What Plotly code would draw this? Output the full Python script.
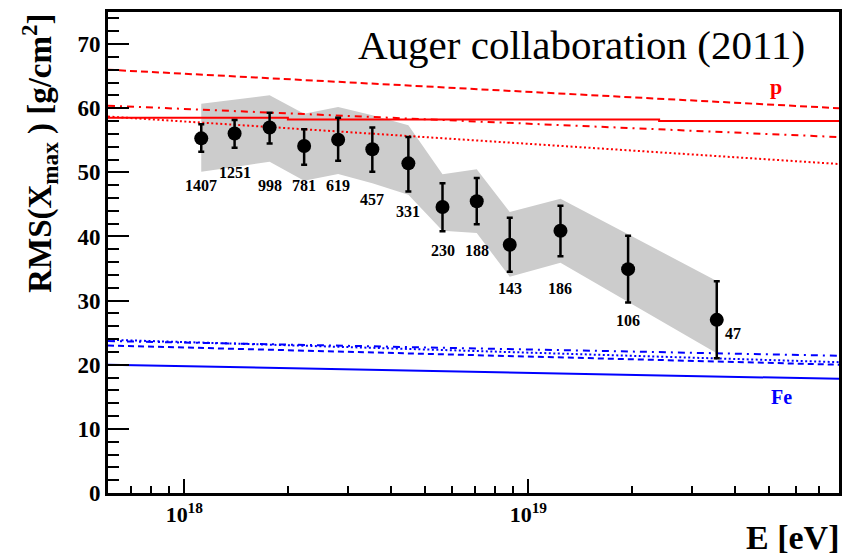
import numpy as np
import plotly.graph_objects as go

# ---------------- data ----------------
energy = [1.12e18, 1.40e18, 1.77e18, 2.23e18, 2.80e18, 3.52e18, 4.48e18,
          5.63e18, 7.08e18, 8.83e18, 1.24e19, 1.95e19, 3.53e19]
rms = [55.3, 56.05, 57.0, 54.1, 55.1, 53.6, 51.4, 44.6, 45.5, 38.7, 40.9, 34.9, 27.0]
err_up = [2.2, 2.1, 2.3, 2.6, 3.4, 3.4, 4.1, 3.7, 3.6, 4.2, 3.9, 5.2, 6.0]
err_down = [2.1, 2.2, 2.5, 2.9, 3.3, 3.5, 4.4, 3.8, 3.6, 4.2, 4.0, 5.2, 6.0]
sys_upper = [60.7, 61.3, 62.0, 59.15, 60.2, 58.9, 57.35, 49.7, 50.5, 43.8, 45.9, 40.35, 33.05]
sys_lower = [50.1, 50.85, 51.65, 48.7, 49.75, 48.3, 46.5, 40.9, 40.55, 33.7, 35.9, 29.85, 21.8]
n_events = ["1407", "1251", "998", "781", "619", "457", "331",
            "230", "188", "143", "186", "106", "47"]
label_y = [47.9, 50.0, 47.9, 47.9, 47.9, 45.7, 43.9, 37.8, 37.8, 31.9, 31.9, 26.9, 24.8]

model_E = [6e17, 8e19]
p_dashed = [66.0, 60.0]
p_dashdot = [60.4, 55.5]
p_dotted = [58.7, 51.3]
p_solid_E = [6e17, 2.0e18, 2.4e19, 8e19]
p_solid = [58.5, 58.25, 58.0, 58.0]
fe_dotted = [23.9, 20.4]
fe_dashdot = [23.7, 21.4]
fe_dashed = [23.0, 20.0]
fe_solid = [20.0, 17.8]

SERIF = "Liberation Serif"
RED = "#ff0000"
BLUE = "#0000ff"

fig = go.Figure()

# systematic band
fig.add_trace(go.Scatter(
    x=energy + energy[::-1], y=sys_upper + sys_lower[::-1],
    fill="toself", fillcolor="#cccccc", line=dict(width=0),
    mode="lines", hoverinfo="skip", showlegend=False))

# model lines (p in red, Fe in blue)
def model_line(x, y, color, dash, shape="linear"):
    fig.add_trace(go.Scatter(x=x, y=y, mode="lines", showlegend=False,
                             line=dict(color=color, width=2, dash=dash, shape=shape)))

model_line(model_E, p_dashed, RED, "7px,4px")
model_line(model_E, p_dashdot, RED, "7px,5px,2px,5px")
model_line(model_E, p_dotted, RED, "2px,2.5px")
model_line(p_solid_E, p_solid, RED, "solid", "hv")
model_line(model_E, fe_dotted, BLUE, "2px,2.5px")
model_line(model_E, fe_dashdot, BLUE, "7px,5px,2px,5px")
model_line(model_E, fe_dashed, BLUE, "6px,4px")
model_line(model_E, fe_solid, BLUE, "solid")

# data points
fig.add_trace(go.Scatter(
    x=energy, y=rms, mode="markers", showlegend=False,
    marker=dict(color="black", size=14),
    error_y=dict(type="data", symmetric=False, array=err_up, arrayminus=err_down,
                 color="black", thickness=2.5, width=3)))

annotations = []
for i, (e, ly, t) in enumerate(zip(energy, label_y, n_events)):
    last = i == len(energy) - 1
    annotations.append(dict(
        x=float(np.log10(e)), y=ly, xref="x", yref="y", text=t, showarrow=False,
        xshift=16 if last else 0,
        font=dict(family=SERIF, size=16, color="black", weight="bold")))

annotations += [
    dict(x=0.956, y=0.932, xref="paper", yref="paper", xanchor="right", yanchor="middle",
         text="Auger collaboration (2011)", showarrow=False,
         font=dict(family=SERIF, size=41, color="black")),
    dict(x=19.719, y=63.4, xref="x", yref="y", text="p", showarrow=False,
         font=dict(family=SERIF, size=22, color=RED, weight="bold")),
    dict(x=19.735, y=14.9, xref="x", yref="y", text="Fe", showarrow=False,
         font=dict(family=SERIF, size=20, color=BLUE, weight="bold")),
    dict(x=1.0027, y=-0.092, xref="paper", yref="paper", xanchor="right", yanchor="middle",
         text="E [eV]", showarrow=False,
         font=dict(family=SERIF, size=34, color="black", weight="bold")),
    dict(x=-0.094, y=1.0, xref="paper", yref="paper", xanchor="center", yanchor="top",
         text="RMS(X<sub>max</sub> ) [g/cm<sup>2</sup>]", textangle=-90, showarrow=False,
         font=dict(family=SERIF, size=33, color="black", weight="bold")),
]

minor_x = [float(m) * 10.0 ** d for d in (17, 18, 19) for m in range(2, 10)
           if 6e17 <= m * 10.0 ** d <= 8e19]

fig.update_layout(
    width=853, height=555,
    margin=dict(l=108, r=14, t=9, b=62),
    paper_bgcolor="white", plot_bgcolor="white",
    showlegend=False,
    annotations=annotations,
    xaxis=dict(
        type="log", range=[float(np.log10(6e17)), float(np.log10(8e19))],
        showline=True, linecolor="black", linewidth=3, mirror=True,
        showgrid=False, zeroline=False,
        ticks="inside", ticklen=14, tickwidth=1.5, tickcolor="black",
        tickmode="array", tickvals=[1e18, 1e19],
        ticktext=["10<sup>18</sup>", "10<sup>19</sup>"],
        tickfont=dict(family=SERIF, size=22, color="black", weight="bold"),
        minor=dict(ticks="inside", ticklen=7, tickwidth=1.5, tickcolor="black",
                   tickmode="array", tickvals=minor_x, showgrid=False),
    ),
    yaxis=dict(
        range=[0, 75], tick0=0, dtick=10,
        showline=True, linecolor="black", linewidth=3, mirror=True,
        showgrid=False, zeroline=False,
        ticks="inside", ticklen=21, tickwidth=1.5, tickcolor="black",
        tickfont=dict(family=SERIF, size=23, color="black", weight="bold"),
        minor=dict(ticks="inside", ticklen=11, tickwidth=1.5, tickcolor="black",
                   dtick=2, tick0=0, showgrid=False),
    ),
)

fig.write_html("out.html")
